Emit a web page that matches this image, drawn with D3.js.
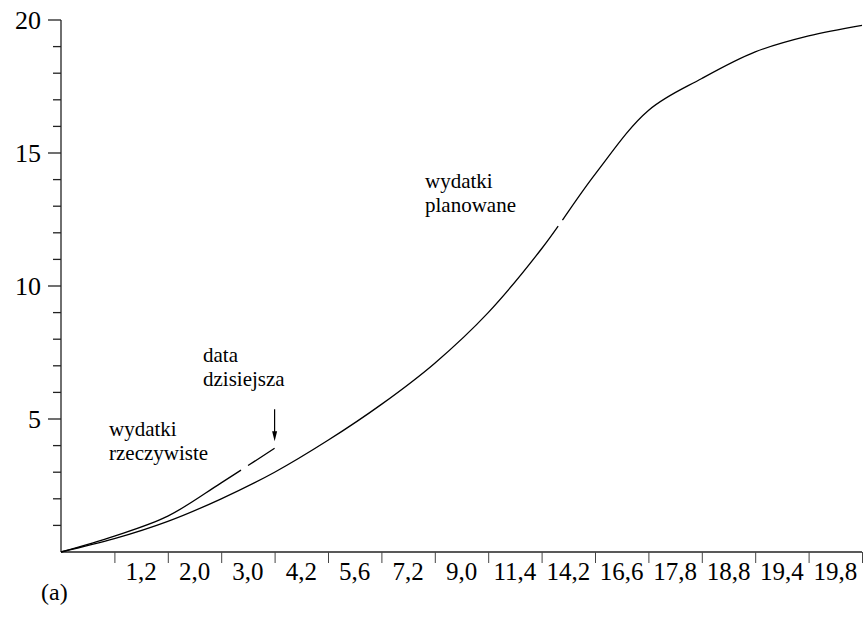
<!DOCTYPE html>
<html>
<head>
<meta charset="utf-8">
<script src="https://cdn.jsdelivr.net/npm/d3@7"></script>
<style>
  html, body { margin: 0; padding: 0; background: #fff; }
  svg { display: block; }
</style>
</head>
<body>
<svg id="chart" width="867" height="619" font-family="Liberation Serif, Times New Roman, Times, DejaVu Serif, serif"></svg>
<script>
// ---- data ----
const periods = d3.range(0, 16);                 // 0..15
const planned = [0, 0.5, 1.15, 2.0, 3.0, 4.2, 5.55, 7.1, 9.0, 11.4, 14.2, 16.6, 17.8, 18.8, 19.4, 19.8];
const actualPeriods = [0, 1, 2, 3, 4];
const actual = [0, 0.6, 1.35, 2.6, 3.9];
const xTickLabels = ["1,2", "2,0", "3,0", "4,2", "5,6", "7,2", "9,0", "11,4", "14,2", "16,6", "17,8", "18,8", "19,4", "19,8"];
const yLabels = [5, 10, 15, 20];
const yMinor = d3.range(1, 21);
const plannedGap = [9.31, 9.39];
const actualGap = [3.37, 3.50];

const FONT = "Liberation Serif, Times New Roman, Times, DejaVu Serif, serif";

// ---- scales ----
const svg = d3.select("#chart");
const x = d3.scaleLinear().domain([0, 15]).range([61, 862]);
const y = d3.scaleLinear().domain([0, 20]).range([552, 20]);

function txt(sel, size) {
  return sel.attr("font-family", FONT).attr("font-size", size)
    .style("font-family", FONT).style("font-size", size + "px");
}

// ---- y axis ----
const yAxisG = svg.append("g");
yAxisG.append("line")
  .attr("x1", x(0)).attr("x2", x(0))
  .attr("y1", y(0)).attr("y2", y(20))
  .attr("stroke", "#222").attr("stroke-width", 1.3);
yAxisG.selectAll("line.tick").data(yMinor).join("line")
  .attr("class", "tick")
  .attr("x1", d => x(0) - (d % 5 === 0 ? 13 : 8))
  .attr("x2", x(0))
  .attr("y1", d => y(d)).attr("y2", d => y(d))
  .attr("stroke", "#222").attr("stroke-width", 1.3);
txt(yAxisG.selectAll("text").data(yLabels).join("text"), 26)
  .attr("x", x(0) - 20)
  .attr("y", d => y(d) + 9)
  .attr("text-anchor", "end")
  .text(d => d);

// ---- x axis ----
const xAxis = d3.axisBottom(x).tickValues(d3.range(1, 16)).tickSize(11).tickFormat("");
const xAxisG = svg.append("g").attr("transform", `translate(0,${y(0)})`).call(xAxis);
xAxisG.select(".domain").attr("stroke", "#222").attr("stroke-width", 1.3).attr("d", `M${x(0)},0H${x(15)}`);
xAxisG.selectAll(".tick line").attr("stroke", "#444").attr("stroke-width", 1);
txt(svg.append("g").selectAll("text").data(xTickLabels).join("text"), 25)
  .attr("x", (d, i) => x(i + 1.5))
  .attr("y", y(0) + 28)
  .attr("text-anchor", "middle")
  .text(d => d);

// ---- lines ----
const line = d3.line().x(d => x(d[0])).y(d => y(d[1])).curve(d3.curveCatmullRom.alpha(0.5));

function applyGap(path, gap) {
  const node = path.node();
  const L = node.getTotalLength();
  function lenAtX(px) {
    let lo = 0, hi = L;
    for (let k = 0; k < 40; k++) {
      const mid = (lo + hi) / 2;
      if (node.getPointAtLength(mid).x < px) lo = mid; else hi = mid;
    }
    return (lo + hi) / 2;
  }
  const l1 = lenAtX(x(gap[0]));
  const l2 = lenAtX(x(gap[1]));
  path.attr("stroke-dasharray", `${l1},${l2 - l1},${L}`);
}

const plannedPath = svg.append("path")
  .datum(periods.map((p, i) => [p, planned[i]]))
  .attr("d", line)
  .attr("fill", "none").attr("stroke", "#000").attr("stroke-width", 1.3);
applyGap(plannedPath, plannedGap);

const actualPath = svg.append("path")
  .datum(actualPeriods.map((p, i) => [p, actual[i]]))
  .attr("d", line)
  .attr("fill", "none").attr("stroke", "#000").attr("stroke-width", 1.3);
applyGap(actualPath, actualGap);

// ---- arrow "data dzisiejsza" ----
const ax = x(actualPeriods[actualPeriods.length - 1]);
const ay = y(actual[actual.length - 1]);
svg.append("line")
  .attr("x1", ax).attr("x2", ax)
  .attr("y1", ay - 39).attr("y2", ay - 14)
  .attr("stroke", "#000").attr("stroke-width", 1.2);
svg.append("path")
  .attr("d", `M${ax - 2.5},${ay - 17}L${ax + 2.5},${ay - 17}L${ax},${ay - 7}Z`)
  .attr("fill", "#000");

// ---- annotations ----
function label(lines, px, py) {
  const t = txt(svg.append("text"), 21).attr("x", px).attr("y", py);
  lines.forEach((s, i) => t.append("tspan").attr("x", px).attr("dy", i === 0 ? 0 : 24).text(s));
}
label(["wydatki", "rzeczywiste"], 109, 436);
label(["data", "dzisiejsza"], 203, 362);
label(["wydatki", "planowane"], 425, 188);

txt(svg.append("text"), 24).attr("x", 41).attr("y", 600).text("(a)");
</script>
</body>
</html>
